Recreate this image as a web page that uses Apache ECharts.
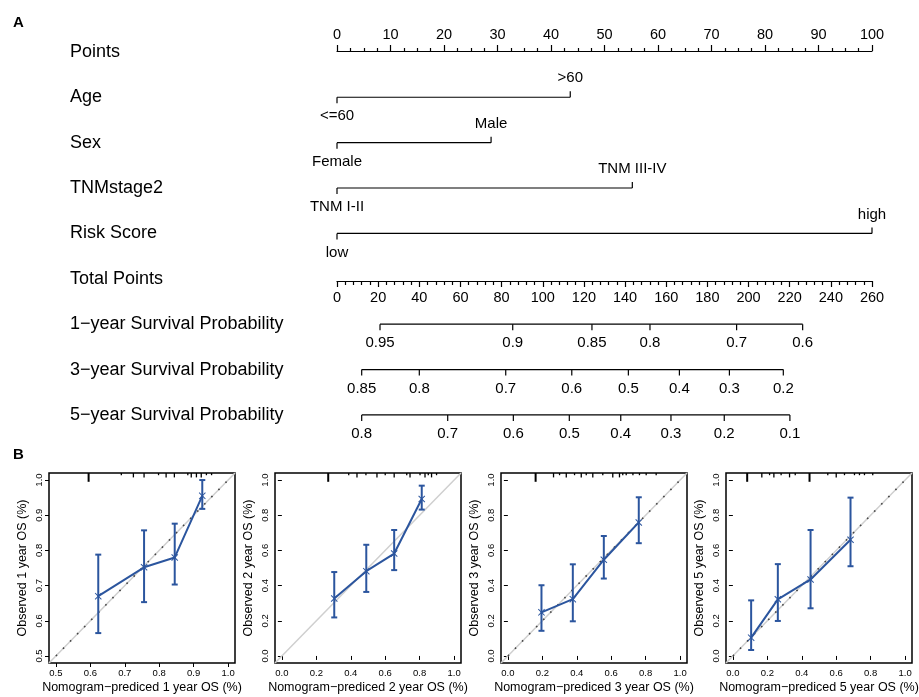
<!DOCTYPE html>
<html><head><meta charset="utf-8">
<script src="https://cdn.jsdelivr.net/npm/echarts@6/dist/echarts.min.js"></script>
<style>html,body{margin:0;padding:0;background:#fff}#c{width:919px;height:697px}</style>
</head><body><div id="c"></div>
<script>
const FONT = '"Liberation Sans", Arial, Helvetica, sans-serif';

// ---------- Panel A: nomogram ----------
const rowNames = ['Points','Age','Sex','TNMstage2','Risk Score','Total Points',
  '1\u2212year Survival Probability','3\u2212year Survival Probability','5\u2212year Survival Probability'];

const ageLevels = ['<=60','>60'];           const agePts = [0, 43.6];
const sexLevels = ['Female','Male'];        const sexPts = [0, 28.8];
const tnmLevels = ['TNM I-II','TNM III-IV']; const tnmPts = [0, 55.2];
const riskLevels = ['low','high'];          const riskPts = [0, 100];

const surv1Labels = ['0.95','0.9','0.85','0.8','0.7','0.6'];
const surv1Total  = [20.9, 85.4, 123.9, 152.1, 194.2, 226.3];
const surv3Labels = ['0.85','0.8','0.7','0.6','0.5','0.4','0.3','0.2'];
const surv3Total  = [12.0, 40.0, 82.0, 114.1, 141.6, 166.4, 190.7, 216.9];
const surv5Labels = ['0.8','0.7','0.6','0.5','0.4','0.3','0.2','0.1'];
const surv5Total  = [12.0, 53.8, 85.7, 112.9, 137.9, 162.3, 188.2, 220.1];

const catRows = [
  {row:1, levels:ageLevels, pts:agePts},
  {row:2, levels:sexLevels, pts:sexPts},
  {row:3, levels:tnmLevels, pts:tnmPts},
  {row:4, levels:riskLevels, pts:riskPts}
];
const probRows = [
  {row:6, labels:surv1Labels, tp:surv1Total},
  {row:7, labels:surv3Labels, tp:surv3Total},
  {row:8, labels:surv5Labels, tp:surv5Total}
];

// ---------- Panel B: calibration ----------
const cal = [
  { name:'1', min:0.5, max:1.0, step:0.1,
    x:[0.623,0.756,0.845,0.925], y:[0.670,0.752,0.780,0.955],
    lo:[0.565,0.653,0.703,0.918], hi:[0.788,0.857,0.876,1.0],
    rug:[0.595,0.69,0.725,0.756,0.798,0.82,0.844,0.883,0.893,0.908,0.922,0.937,0.952],
    rugN:[4,1,2,2,1,2,2,1,2,2,2,1,1], dotted:true },
  { name:'2', min:0.0, max:1.0, step:0.2,
    x:[0.304,0.49,0.652,0.812], y:[0.327,0.482,0.582,0.892],
    lo:[0.219,0.364,0.488,0.832], hi:[0.477,0.632,0.716,0.968],
    rug:[0.269,0.388,0.436,0.488,0.552,0.6,0.652,0.725,0.744,0.802,0.831,0.85,0.869,0.898],
    rugN:[4,1,2,1,2,1,2,1,2,1,2,1,2,1], dotted:false },
  { name:'3', min:0.0, max:1.0, step:0.2,
    x:[0.195,0.377,0.557,0.76], y:[0.248,0.323,0.547,0.759],
    lo:[0.143,0.197,0.44,0.641], hi:[0.402,0.521,0.682,0.902],
    rug:[0.161,0.265,0.3,0.339,0.387,0.426,0.455,0.493,0.551,0.609,0.648,0.667,0.687,0.726,0.764,0.803,0.861],
    rugN:[4,2,1,2,1,2,1,2,1,2,2,1,1,1,1,1,1], dotted:true },
  { name:'5', min:0.0, max:1.0, step:0.2,
    x:[0.106,0.261,0.451,0.683], y:[0.104,0.322,0.435,0.661],
    lo:[0.034,0.199,0.271,0.51], hi:[0.316,0.522,0.716,0.9],
    rug:[0.083,0.168,0.213,0.238,0.28,0.329,0.362,0.445,0.551,0.6,0.648,0.706,0.735,0.764,0.812],
    rugN:[4,2,1,2,1,2,1,4,1,2,1,1,1,1,1], dotted:true }
];
const calLeft = [49, 275, 501, 726];

const BLUE = '#2b559e';
const XMARK = 'path://M0,1L1,0L5,4L9,0L10,1L6,5L10,9L9,10L5,6L1,10L0,9L4,5Z';

const grids = [
  {left:337, right:47, top:29.2, height:408.4, outerBoundsMode:'none'},
  {left:337, right:47, top:50, height:1, outerBoundsMode:'none'},
  {left:337, right:47, top:280, height:1, outerBoundsMode:'none'}
];
const xAxes = [
  {gridIndex:0, type:'value', min:0, max:100, show:false},
  {gridIndex:0, type:'value', min:0, max:260, show:false},
  {gridIndex:1, type:'value', min:0, max:100, interval:10, position:'top',
   axisLine:{lineStyle:{color:'#000', width:1.2}},
   axisTick:{length:6, lineStyle:{color:'#000', width:1.2}},
   minorTick:{show:true, splitNumber:4, length:3, lineStyle:{color:'#000', width:1.2}},
   axisLabel:{fontSize:14.5, color:'#000', fontFamily:FONT, margin:8},
   splitLine:{show:false}, minorSplitLine:{show:false}},
  {gridIndex:2, type:'value', min:0, max:260, interval:20, position:'bottom',
   axisLine:{lineStyle:{color:'#000', width:1.2}},
   axisTick:{length:6, lineStyle:{color:'#000', width:1.2}},
   minorTick:{show:true, splitNumber:5, length:4, lineStyle:{color:'#000', width:1.2}},
   axisLabel:{fontSize:14.5, color:'#000', fontFamily:FONT, margin:9},
   splitLine:{show:false}, minorSplitLine:{show:false}}
];
const yAxes = [
  {gridIndex:0, type:'category', data:rowNames, inverse:true,
   axisLine:{show:false}, axisTick:{show:false}, splitLine:{show:false},
   axisLabel:{align:'left', margin:267, fontSize:18, color:'#000', fontFamily:FONT}},
  {gridIndex:1, type:'value', show:false, min:0, max:1},
  {gridIndex:2, type:'value', show:false, min:0, max:1}
];

const series = [];

// categorical rows
series.push({
  type:'custom', xAxisIndex:0, yAxisIndex:0, silent:true,
  data: catRows.map(r => [r.pts[r.pts.length-1], r.row]),
  renderItem: (params, api) => {
    const r = catRows[params.dataIndex];
    const y = api.coord([0, r.row])[1];
    const xs = r.pts.map(p => api.coord([p, r.row])[0]);
    const ch = [{type:'line', shape:{x1:xs[0], y1:y, x2:xs[xs.length-1], y2:y},
                 style:{stroke:'#000', lineWidth:1.2}}];
    r.levels.forEach((lab, j) => {
      const side = j % 2 === 0 ? 1 : -1;
      ch.push({type:'line', shape:{x1:xs[j], y1:y, x2:xs[j], y2:y + side*6},
               style:{stroke:'#000', lineWidth:1.2}});
      ch.push({type:'text', style:{text:lab, x:xs[j], y:y + side*19, fill:'#000',
               fontSize:15, fontFamily:FONT, align:'center', verticalAlign:'middle'}});
    });
    return {type:'group', children:ch};
  }
});

// probability rows
series.push({
  type:'custom', xAxisIndex:1, yAxisIndex:0, silent:true,
  data: probRows.map(r => [r.tp[r.tp.length-1], r.row]),
  renderItem: (params, api) => {
    const r = probRows[params.dataIndex];
    const y = api.coord([0, r.row])[1];
    const xs = r.tp.map(p => api.coord([p, r.row])[0]);
    const ch = [{type:'line', shape:{x1:xs[0], y1:y, x2:xs[xs.length-1], y2:y},
                 style:{stroke:'#000', lineWidth:1.2}}];
    r.labels.forEach((lab, j) => {
      ch.push({type:'line', shape:{x1:xs[j], y1:y, x2:xs[j], y2:y + 6},
               style:{stroke:'#000', lineWidth:1.2}});
      ch.push({type:'text', style:{text:lab, x:xs[j], y:y + 19, fill:'#000',
               fontSize:15, fontFamily:FONT, align:'center', verticalAlign:'middle'}});
    });
    return {type:'group', children:ch};
  }
});

// calibration plots
cal.forEach((c, i) => {
  const g = grids.length;
  const pad = (c.max - c.min) * 0.04;
  const lo = c.min - pad, hi = c.max + pad;
  const ticks = [];
  for (let v = c.min; v <= c.max + 1e-9; v += c.step) ticks.push(+v.toFixed(2));
  grids.push({left:calLeft[i], width:186, top:473, height:190, show:true,
              borderColor:'#000', borderWidth:1.5, outerBoundsMode:'none', containLabel:false});
  const axCommon = {
    gridIndex:g, type:'value', min:lo, max:hi,
    axisLine:{show:false},
    axisTick:{show:true, length:4, customValues:ticks, lineStyle:{color:'#000'}},
    axisLabel:{customValues:ticks, formatter:v => v.toFixed(1), fontSize:9.5,
               color:'#000', fontFamily:FONT, margin:5},
    splitLine:{show:false},
    nameLocation:'middle',
    nameTextStyle:{fontSize:12.5, color:'#000', fontFamily:FONT}
  };
  xAxes.push(Object.assign({}, axCommon, {name:'Nomogram\u2212prediced ' + c.name + ' year OS (%)', nameGap:18}));
  yAxes.push(Object.assign({}, axCommon, {name:'Observed ' + c.name + ' year OS (%)', nameGap:20,
    axisLabel:Object.assign({}, axCommon.axisLabel, {rotate:90})}));
  const xi = xAxes.length - 1, yi = yAxes.length - 1;

  // ideal line (light gray)
  series.push({type:'line', xAxisIndex:xi, yAxisIndex:yi, silent:true, symbol:'none',
    data:[[lo, lo],[hi, hi]], lineStyle:{color:'#cfcfcf', width:1.5}, z:1});
  if (c.dotted) {
    series.push({type:'line', xAxisIndex:xi, yAxisIndex:yi, silent:true, symbol:'none',
      data:[[c.min, c.min],[c.max, c.max]],
      lineStyle:{color:'#444', width:1.6, type:[1.6, 8.5]}, z:2});
  }
  // rug
  series.push({type:'custom', xAxisIndex:xi, yAxisIndex:yi, silent:true, z:3,
    data:c.rug.map((v, k) => [v, c.rugN[k]]),
    renderItem:(params, api) => {
      const p = api.coord([api.value(0), hi]);
      const n = api.value(1);
      return {type:'line', shape:{x1:p[0], y1:p[1], x2:p[0], y2:p[1] + n*2.2},
              style:{stroke:'#000', lineWidth:n >= 3 ? 2 : 1.3}};
    }});
  // error bars
  series.push({type:'custom', xAxisIndex:xi, yAxisIndex:yi, silent:true, z:4,
    data:c.x.map((v, k) => [v, c.lo[k], c.hi[k]]),
    renderItem:(params, api) => {
      const a = api.coord([api.value(0), api.value(1)]);
      const b = api.coord([api.value(0), api.value(2)]);
      const st = {stroke:BLUE, lineWidth:2};
      return {type:'group', children:[
        {type:'line', shape:{x1:a[0], y1:a[1], x2:b[0], y2:b[1]}, style:st},
        {type:'line', shape:{x1:a[0]-3, y1:a[1], x2:a[0]+3, y2:a[1]}, style:st},
        {type:'line', shape:{x1:b[0]-3, y1:b[1], x2:b[0]+3, y2:b[1]}, style:st}
      ]};
    }});
  // calibration curve
  series.push({type:'line', xAxisIndex:xi, yAxisIndex:yi, silent:true, z:5,
    data:c.x.map((v, k) => [v, c.y[k]]),
    symbol:XMARK, symbolSize:7, showSymbol:true,
    itemStyle:{color:BLUE}, lineStyle:{color:BLUE, width:2}});
});

const chart = echarts.init(document.getElementById('c'), null, {renderer:'canvas'});
chart.setOption({
  animation:false,
  backgroundColor:'#fff',
  textStyle:{fontFamily:FONT},
  title:[
    {text:'A', left:8, top:10, textStyle:{fontSize:15, fontWeight:'bold', color:'#000', fontFamily:FONT}},
    {text:'B', left:8, top:442, textStyle:{fontSize:15, fontWeight:'bold', color:'#000', fontFamily:FONT}}
  ],
  grid:grids, xAxis:xAxes, yAxis:yAxes, series:series
});
</script></body></html>
